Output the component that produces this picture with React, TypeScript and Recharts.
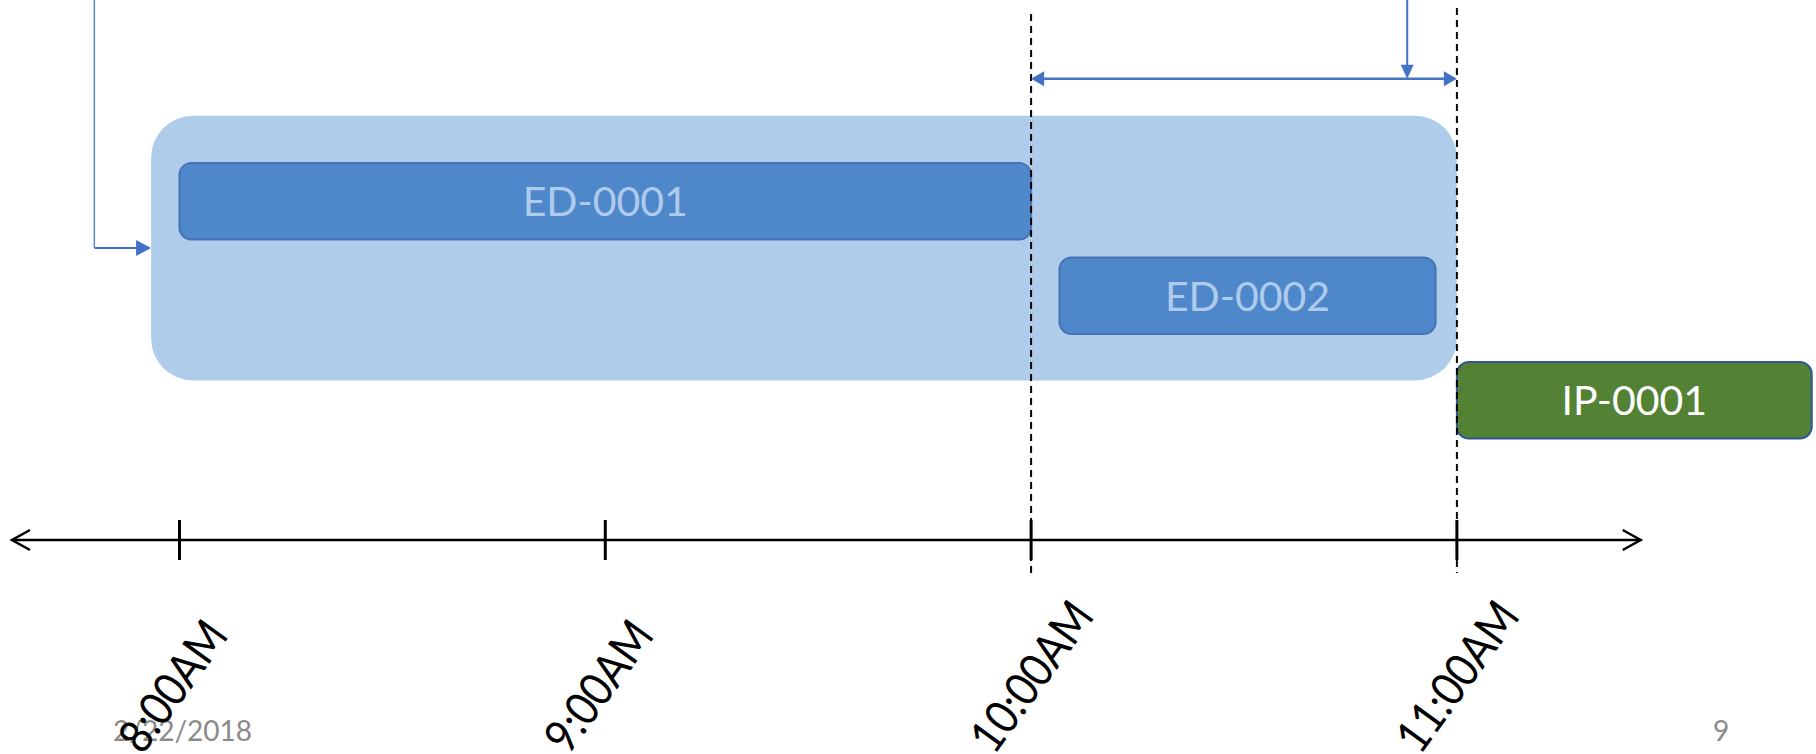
import React from 'react';
import { ComposedChart, XAxis, YAxis, ReferenceArea, ReferenceLine } from 'recharts';

// all times in minutes after midnight
const taskNames = ['ED-0001', 'ED-0002', 'IP-0001'];
const taskStart = [480, 604, 660];
const taskEnd = [600, 657, 710];
const taskKind = ['ed', 'ed', 'ip'];

// ED stay that groups the two ED encounters
const stayStart = 476;
const stayEnd = 660;

const tickTimes = [480, 540, 600, 660];
const tickLabels = ['8:00AM', '9:00AM', '10:00AM', '11:00AM'];

// dashed markers: ED discharge and inpatient admit
const markerTimes = [600, 660];
const calloutTime = 653;
const entryTime = 468;
const timelineFrom = 456.4;
const timelineTo = 685.9;

const footerDate = '2/22/2018';
const footerPage = '9';

// layout (y in rows of 100px, 0 at top)
const W = 1816;
const H = 754;
const AXIS_H = 214;
const laneTop = [1.63, 2.575, 3.62];
const laneH = 0.765;
const stayTop = 1.157;
const stayBottom = 3.805;
const gapY = 0.787;
const entryY = 2.48;
const markerTop = [0.14, 0.08];
const markerBottom = [5.78, 5.73];
const axisY = 5.4;

const FONT = 'Lato, "Noto Sans", sans-serif';
const BLUE = '#4472c4';

const styles: Record<string, any> = {
  ed: { fill: '#4f87cb', stroke: '#4673b7', text: '#afcbeb' },
  ip: { fill: '#548235', stroke: '#2f5597', text: '#ffffff' },
};

const boxShape = (fill: string, stroke: string, radius: number, label?: string, textColor?: string) => (p: any) => (
  <g>
    <rect
      x={p.x}
      y={p.y}
      width={p.width}
      height={p.height}
      rx={radius}
      ry={radius}
      fill={fill}
      stroke={stroke}
      strokeWidth={stroke === 'none' ? 0 : 2}
    />
    {label ? (
      <text
        x={p.x + p.width / 2}
        y={p.y + p.height / 2 + 15}
        textAnchor="middle"
        fontSize={41}
        fontFamily={FONT}
        fill={textColor}
      >
        {label}
      </text>
    ) : null}
  </g>
);

// filled triangle heads
const arrowShape = (color: string, width: number, atStart: boolean, atEnd: boolean, len: number, half: number) => (p: any) => {
  const { x1, y1, x2, y2 } = p;
  const dx = x2 - x1;
  const dy = y2 - y1;
  const d = Math.hypot(dx, dy) || 1;
  const ux = dx / d;
  const uy = dy / d;
  const head = (tx: number, ty: number, sx: number, sy: number) => {
    const bx = tx - sx * len;
    const by = ty - sy * len;
    return `${tx},${ty} ${bx - sy * half},${by + sx * half} ${bx + sy * half},${by - sx * half}`;
  };
  const sx1 = atStart ? x1 + ux * (len - 1) : x1;
  const sy1 = atStart ? y1 + uy * (len - 1) : y1;
  const sx2 = atEnd ? x2 - ux * (len - 1) : x2;
  const sy2 = atEnd ? y2 - uy * (len - 1) : y2;
  return (
    <g>
      <line x1={sx1} y1={sy1} x2={sx2} y2={sy2} stroke={color} strokeWidth={width} />
      {atStart ? <polygon points={head(x1, y1, -ux, -uy)} fill={color} /> : null}
      {atEnd ? <polygon points={head(x2, y2, ux, uy)} fill={color} /> : null}
    </g>
  );
};

// open chevrons on both ends of the timeline
const timelineShape = (p: any) => {
  const { x1, y1, x2, y2 } = p;
  return (
    <g fill="none" stroke="#000" strokeWidth={2.5}>
      <line x1={x1} y1={y1} x2={x2} y2={y2} />
      <polyline points={`${x1 + 18},${y1 - 10} ${x1},${y1} ${x1 + 18},${y1 + 10}`} />
      <polyline points={`${x2 - 18},${y2 - 10} ${x2},${y2} ${x2 - 18},${y2 + 10}`} />
    </g>
  );
};

const TimeTick = (props: any) => {
  const { x, y, payload } = props;
  const label = tickLabels[tickTimes.indexOf(payload.value)];
  const tx = x - 37;
  const ty = y + 216;
  return (
    <g>
      <line x1={x} x2={x} y1={y - 20} y2={y + 20} stroke="#000" strokeWidth={3} />
      <text
        x={0}
        y={0}
        transform={`translate(${tx} ${ty}) rotate(-54) scale(0.88 1)`}
        textAnchor="start"
        fontSize={47}
        fontFamily={FONT}
        fill="#000"
      >
        {label}
      </text>
    </g>
  );
};

export default function App() {
  const data = tickTimes.map((t) => ({ t }));
  return (
    <div style={{ position: 'relative', width: W, height: H, background: '#fff' }}>
      <style>{'body{margin:0}'}</style>
      <svg width={W} height={H} style={{ position: 'absolute', left: 0, top: 0 }}>
        <text x={113} y={741} fontSize={28} fontFamily={FONT} fill="#8a8a8a">
          {footerDate}
        </text>
        <text x={1713} y={741} fontSize={28} fontFamily={FONT} fill="#8a8a8a">
          {footerPage}
        </text>
      </svg>
      <div style={{ position: 'absolute', left: 0, top: 0 }}>
        <ComposedChart width={W} height={H} data={data} margin={{ top: 0, right: 0, bottom: 0, left: 0 }}>
          <XAxis
            dataKey="t"
            type="number"
            domain={[454.71, 710.6]}
            allowDataOverflow
            ticks={tickTimes}
            interval={0}
            height={AXIS_H}
            tickSize={0}
            tickMargin={0}
            axisLine={false}
            tickLine={false}
            tick={TimeTick}
          />
          <YAxis type="number" domain={[0, axisY]} reversed hide width={0} allowDataOverflow />

          <ReferenceArea
            x1={stayStart}
            x2={stayEnd}
            y1={stayTop}
            y2={stayBottom}
            ifOverflow="visible"
            shape={boxShape('#afcdea', 'none', 42)}
          />
          {taskNames.map((name, i) => {
            const s = styles[taskKind[i]];
            return (
              <ReferenceArea
                key={name}
                x1={taskStart[i]}
                x2={taskEnd[i]}
                y1={laneTop[i]}
                y2={laneTop[i] + laneH}
                ifOverflow="visible"
                shape={boxShape(s.fill, s.stroke, 12, name, s.text)}
              />
            );
          })}

          <ReferenceLine
            segment={[{ x: timelineFrom, y: axisY }, { x: timelineTo, y: axisY }]}
            ifOverflow="visible"
            shape={timelineShape}
          />

          {markerTimes.map((t, i) => (
            <ReferenceLine
              key={t}
              segment={[{ x: t, y: markerTop[i] }, { x: t, y: markerBottom[i] }]}
              ifOverflow="visible"
              stroke="#000"
              strokeWidth={2}
              strokeDasharray="7 5"
            />
          ))}

          <ReferenceLine
            segment={[{ x: markerTimes[0], y: gapY }, { x: markerTimes[1], y: gapY }]}
            ifOverflow="visible"
            shape={arrowShape(BLUE, 2.5, true, true, 13, 7.5)}
          />
          <ReferenceLine
            segment={[{ x: calloutTime, y: -0.05 }, { x: calloutTime, y: gapY }]}
            ifOverflow="visible"
            shape={arrowShape(BLUE, 2, false, true, 14, 6.5)}
          />
          <ReferenceLine
            segment={[{ x: entryTime, y: -0.05 }, { x: entryTime, y: entryY }]}
            ifOverflow="visible"
            shape={arrowShape('#5a85d1', 1.5, false, false, 0, 0)}
          />
          <ReferenceLine
            segment={[{ x: entryTime, y: entryY }, { x: stayStart, y: entryY }]}
            ifOverflow="visible"
            shape={arrowShape(BLUE, 2, false, true, 15, 8)}
          />
        </ComposedChart>
      </div>
    </div>
  );
}
